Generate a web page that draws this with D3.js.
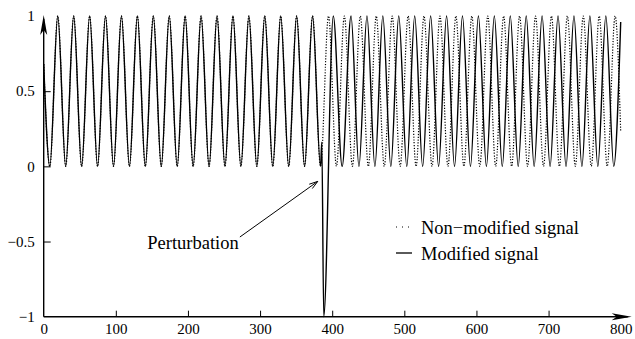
<!DOCTYPE html>
<html>
<head>
<meta charset="utf-8">
<script src="https://cdn.jsdelivr.net/npm/d3@7"></script>
<style>
  html, body { margin: 0; padding: 0; background: #ffffff; }
  svg { display: block; }
</style>
</head>
<body>
<div id="chart"></div>
<script>
// extrema (x positions), signal swings between 0 and 1
const startPoint = [0, 0.68];
const preTroughs = [8.5, 30.5, 52.6, 74.7, 96.8, 118.9, 140.9, 163.0, 185.1, 207.2, 229.3, 251.3, 273.4, 295.5, 317.6, 339.7, 361.7, 383.8];
const prePeaks = [19.5, 41.6, 63.7, 85.7, 107.8, 129.9, 152.0, 174.1, 196.1, 218.2, 240.3, 262.4, 284.5, 306.5, 328.6, 350.7, 372.8];

// non-modified signal after the perturbation
const refPeaks = [394.9, 416.9, 439.0, 461.1, 483.2, 505.3, 527.3, 549.4, 571.5, 593.6, 615.7, 637.7, 659.8, 681.9, 704.0, 726.1, 748.1, 770.2, 792.3];
const refTroughs = [405.9, 428.0, 450.1, 472.2, 494.2, 516.3, 538.4, 560.5, 582.6, 604.6, 626.7, 648.8, 670.9, 693.0, 715.0, 737.1, 759.2, 781.3];
const refEnd = [800, 0.23];

// modified signal: spike then shifted phase
const spikePoints = [[385.6, 0.16], [388.3, -1]];
const modPeaks = [401.5, 426.1, 448.2, 470.2, 492.3, 514.4, 536.5, 558.6, 580.6, 602.7, 624.8, 646.9, 669.0, 691.0, 713.1, 735.2, 757.3, 779.4];
const modTroughs = [413.8, 437.1, 459.2, 481.3, 503.4, 525.4, 547.5, 569.6, 591.7, 613.8, 635.8, 657.9, 680.0, 702.1, 724.2, 746.2, 768.3, 790.4];
const modEnd = [800, 0.96];

const xTickValues = [0, 100, 200, 300, 400, 500, 600, 700, 800];
const yTickValues = [-1, -0.5, 0, 0.5, 1];
const legendLabels = ['Non\u2212modified signal', 'Modified signal'];
const annotation = { text: 'Perturbation', from: [272, -0.47], to: [380, -0.1], label: [143.6, -0.55] };

const width = 635;
const height = 339;
const serif = '"Liberation Serif", "Times New Roman", serif';

const x = d3.scaleLinear().domain([0, 800]).range([43.7, 620.7]);
const y = d3.scaleLinear().domain([-1, 1]).range([316.7, 16]);

const svg = d3.select('#chart').append('svg')
  .attr('width', width)
  .attr('height', height);

function extrema(peaks, troughs) {
  return peaks.map((p) => [p, 1]).concat(troughs.map((t) => [t, 0]));
}

const common = [startPoint].concat(extrema(prePeaks, preTroughs));
const reference = common.concat(extrema(refPeaks, refTroughs), [refEnd]).sort((a, b) => a[0] - b[0]);
const modified = common.concat(spikePoints, extrema(modPeaks, modTroughs), [modEnd]).sort((a, b) => a[0] - b[0]);

const line = d3.line()
  .x((d) => x(d[0]))
  .y((d) => y(d[1]))
  .curve(d3.curveMonotoneX);

svg.append('path')
  .datum(reference)
  .attr('d', line)
  .attr('fill', 'none')
  .attr('stroke', '#000')
  .attr('stroke-width', 1.2)
  .attr('stroke-dasharray', '1.2,1.6');

svg.append('path')
  .datum(modified)
  .attr('d', line)
  .attr('fill', 'none')
  .attr('stroke', '#000')
  .attr('stroke-width', 1.4);

// axes
const xAxis = svg.append('g')
  .attr('transform', `translate(0,${y(-1)})`)
  .call(d3.axisBottom(x).tickValues(xTickValues).tickSizeInner(-6).tickSizeOuter(0).tickPadding(7).tickFormat(d3.format('')));

const yAxis = svg.append('g')
  .attr('transform', `translate(${x(0)},0)`)
  .call(d3.axisLeft(y).tickValues(yTickValues).tickSizeInner(-7).tickSizeOuter(0).tickPadding(9).tickFormat(d3.format('')));

[xAxis, yAxis].forEach((g) => {
  g.select('.domain').remove();
  g.selectAll('text').attr('font-family', serif).attr('font-size', 15).attr('fill', '#000');
  g.selectAll('line').attr('stroke', '#000').attr('stroke-width', 1);
});
xAxis.selectAll('.tick').filter((d) => d === 0 || d === 800).select('line').remove();
yAxis.selectAll('.tick').filter((d) => d === -1 || d === 1).select('line').remove();

const x0 = x(0);
const yBottom = y(-1);
const xTip = 631.7;
const yTip = 15;

svg.append('line')
  .attr('x1', x0).attr('y1', yBottom).attr('x2', xTip - 4).attr('y2', yBottom)
  .attr('stroke', '#000').attr('stroke-width', 1.4);
svg.append('line')
  .attr('x1', x0).attr('y1', yBottom).attr('x2', x0).attr('y2', yTip + 4)
  .attr('stroke', '#000').attr('stroke-width', 1.4);

svg.append('path')
  .attr('d', `M${xTip},${yBottom} L${xTip - 20},${yBottom - 3.5} L${xTip - 15},${yBottom} L${xTip - 20},${yBottom + 3.5} Z`)
  .attr('fill', '#000');
svg.append('path')
  .attr('d', `M${x0},${yTip} L${x0 - 3.5},${yTip + 20} L${x0},${yTip + 15} L${x0 + 3.5},${yTip + 20} Z`)
  .attr('fill', '#000');

// annotation
const ax1 = x(annotation.from[0]);
const ay1 = y(annotation.from[1]);
const ax2 = x(annotation.to[0]);
const ay2 = y(annotation.to[1]);
const ang = Math.atan2(ay2 - ay1, ax2 - ax1);
const headLen = 9;
const headAng = 0.3;

svg.append('line')
  .attr('x1', ax1).attr('y1', ay1).attr('x2', ax2).attr('y2', ay2)
  .attr('stroke', '#000').attr('stroke-width', 1);
svg.append('path')
  .attr('d', `M${ax2 - headLen * Math.cos(ang - headAng)},${ay2 - headLen * Math.sin(ang - headAng)} L${ax2},${ay2} L${ax2 - headLen * Math.cos(ang + headAng)},${ay2 - headLen * Math.sin(ang + headAng)}`)
  .attr('fill', 'none')
  .attr('stroke', '#000')
  .attr('stroke-width', 1);

svg.append('text')
  .attr('x', x(annotation.label[0]))
  .attr('y', y(annotation.label[1]))
  .attr('font-family', serif)
  .attr('font-size', 18.5)
  .text(annotation.text);

// legend
const legend = svg.append('g').attr('transform', 'translate(396,227)');
legendLabels.forEach((label, i) => {
  const row = legend.append('g').attr('transform', `translate(0,${i * 26})`);
  row.append('line')
    .attr('x1', 0).attr('x2', 16).attr('y1', 0).attr('y2', 0)
    .attr('stroke', '#000')
    .attr('stroke-width', i === 0 ? 1 : 1.3)
    .attr('stroke-dasharray', i === 0 ? '1,5' : null);
  row.append('text')
    .attr('x', 25)
    .attr('y', 6.5)
    .attr('font-family', serif)
    .attr('font-size', 18.5)
    .text(label);
});
</script>
</body>
</html>
